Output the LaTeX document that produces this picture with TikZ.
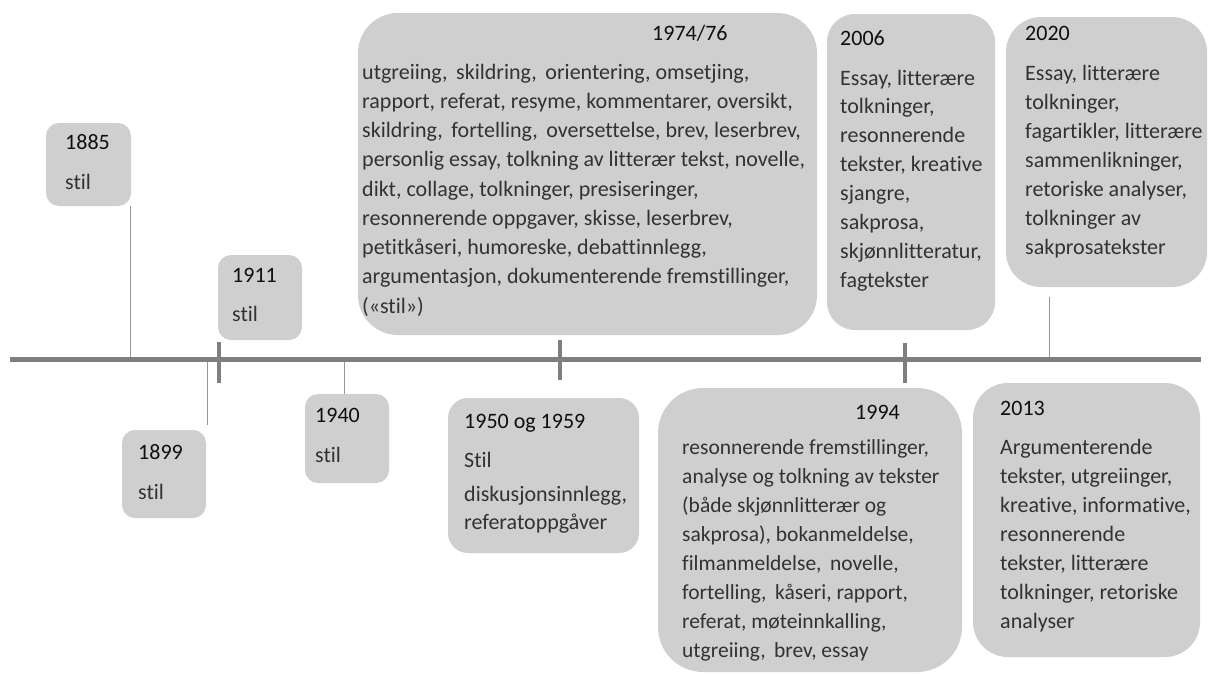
\documentclass[tikz,border=0pt]{standalone}
\usepackage{fontspec}
\setmainfont{Carlito}[Ligatures={NoCommon,NoContextual}]
\definecolor{boxfill}{RGB}{208,207,208}
\definecolor{axisgray}{RGB}{127,127,127}
\definecolor{leadergray}{RGB}{150,150,150}
\definecolor{headtext}{RGB}{15,15,15}
\definecolor{bodytext}{RGB}{50,50,50}
\newcommand{\bodylines}[2]{\parbox[t]{#1}{\raggedright #2}}
\tikzset{
  era/.style={fill=boxfill, draw=none, inner sep=0pt, rounded corners=#1},
  era/.default=13pt,
  yearlabel/.style={anchor=base west, inner sep=0pt, text=headtext,
    font=\fontsize{22}{29}\selectfont},
  bodylabel/.style={anchor=base west, inner sep=0pt, text=bodytext,
    font=\fontsize{22}{#1}\selectfont},
  bodylabel/.default=29.2,
  smallbody/.style={anchor=base west, inner sep=0pt, text=bodytext,
    font=\fontsize{21.5}{#1}\selectfont},
  axisline/.style={draw=axisgray, line width=5pt},
  tickmark/.style={draw=axisgray, line width=3.5pt},
  leader/.style={draw=leadergray, line width=1pt},
}
\begin{document}
\begin{tikzpicture}[x=1pt, y=-1pt]
  \fill[white] (0,0) rectangle (1212,673);
  \useasboundingbox (0,0) rectangle (1212,673);

  % points on the time axis
  \coordinate (axisL) at (10,359);
  \coordinate (axisR) at (1201,359);
  \coordinate (c1885) at (130,359);
  \coordinate (c1899) at (207,359);
  \coordinate (k1911) at (219,359);
  \coordinate (c1940) at (344,359);
  \coordinate (k1974) at (560,359);
  \coordinate (k1994) at (905,359);
  \coordinate (c2020) at (1049,359);

  % boxes
  \node[era, minimum width=85pt, minimum height=83pt] (b1885) at (88.5,164.5) {};
  \node[era, minimum width=84pt, minimum height=85pt] (b1911) at (260,297.5) {};
  \node[era, minimum width=84pt, minimum height=88pt] (b1899) at (164,474) {};
  \node[era, minimum width=84pt, minimum height=89pt] (b1940) at (347,438.5) {};
  \node[era=20pt, minimum width=191pt, minimum height=155pt] (b1950) at (543.5,475.5) {};
  \node[era=40pt, minimum width=459pt, minimum height=322pt] (b1974) at (587.5,174) {};
  \node[era=28pt, minimum width=168pt, minimum height=316pt] (b2006) at (911,172) {};
  \node[era=35pt, minimum width=201pt, minimum height=270pt] (b2020) at (1106.5,152) {};
  \node[era=45pt, minimum width=304pt, minimum height=284pt] (b1994) at (810,530) {};
  \node[era=35pt, minimum width=227pt, minimum height=274pt] (b2013) at (1086.5,520) {};

  % leader lines from boxes to the axis
  \draw[leader] (c1885) -- (c1885 |- b1885.south);
  \draw[leader] (c1899) -- ++(0,66);
  \draw[leader] (c1940) -- (c1940 |- b1940.north);
  \draw[leader] (c2020) -- ++(0,-62);

  % the axis and its ticks
  \draw[axisline] (axisL) -- (axisR);
  \draw[tickmark] (k1911) ++(0,-17) -- ++(0,41);
  \draw[tickmark] (k1974) ++(0,-19) -- ++(0,40);
  \draw[tickmark] (k1994) ++(0,-16) -- ++(0,40);

  % year headings
  \node[yearlabel] (t1885) at (65,149) {1885};
  \node[yearlabel] (t1911) at (232,282) {1911};
  \node[yearlabel] (t1899) at (138,459) {1899};
  \node[yearlabel] (t1940) at (315,422) {1940};
  \node[yearlabel] (t1950) at (464,428) {1950 og 1959};
  \node[yearlabel] (t1974) at (652,40) {1974/76};
  \node[yearlabel] (t2006) at (840,45) {2006};
  \node[yearlabel] (t2020) at (1025,40) {2020};
  \node[yearlabel] (t1994) at (855,419) {1994};
  \node[yearlabel] (t2013) at (1000,415) {2013};

  % text types
  \node[bodylabel] (d1885) at (65,189) {stil};
  \node[bodylabel] (d1911) at (232,321) {stil};
  \node[bodylabel] (d1899) at (138,499) {stil};
  \node[bodylabel] (d1940) at (315,462) {stil};
  \node[bodylabel] (s1950) at (464,467) {Stil};
  \node[bodylabel=28] (d1950) at (464,501) {\bodylines{170pt}{diskusjonsinnlegg,\\referatoppgåver}};
  \node[bodylabel=29.25] (d1974) at (362,79) {\bodylines{455pt}{%
    utgreiing,\ \,skildring,\ \,orientering, omsetjing,\\
    rapport, referat, resyme, kommentarer, oversikt,\\
    skildring,\ \,fortelling,\ \,oversettelse, brev, leserbrev,\\
    personlig essay, tolkning av litterær tekst, novelle,\\
    dikt, collage, tolkninger, presiseringer,\\
    resonnerende oppgaver, skisse, leserbrev,\\
    petitkåseri, humoreske, debattinnlegg,\\
    argumentasjon, dokumenterende fremstillinger,\\
    («stil»)}};
  \node[bodylabel=28.9] (d2006) at (840,85) {\bodylines{160pt}{%
    Essay, litterære\\
    tolkninger,\\
    resonnerende\\
    tekster, kreative\\
    sjangre,\\
    sakprosa,\\
    skjønnlitteratur,\\
    fagtekster}};
  \node[bodylabel=29.1] (d2020) at (1025,80) {\bodylines{185pt}{%
    Essay, litterære\\
    tolkninger,\\
    fagartikler, litterære\\
    sammenlikninger,\\
    retoriske analyser,\\
    tolkninger av\\
    sakprosatekster}};
  \node[smallbody=29] (d1994) at (682,454) {\bodylines{280pt}{%
    resonnerende fremstillinger,\\
    analyse og tolkning av tekster\\
    (både skjønnlitterær og\\
    sakprosa), bokanmeldelse,\\
    filmanmeldelse,\ \,novelle,\\
    fortelling,\ \,kåseri, rapport,\\
    referat, møteinnkalling,\\
    utgreiing,\ \,brev, essay}};
  \node[bodylabel=29] (d2013) at (1000,454) {\bodylines{200pt}{%
    Argumenterende\\
    tekster, utgreiinger,\\
    kreative, informative,\\
    resonnerende\\
    tekster, litterære\\
    tolkninger, retoriske\\
    analyser}};
\end{tikzpicture}
\end{document}
